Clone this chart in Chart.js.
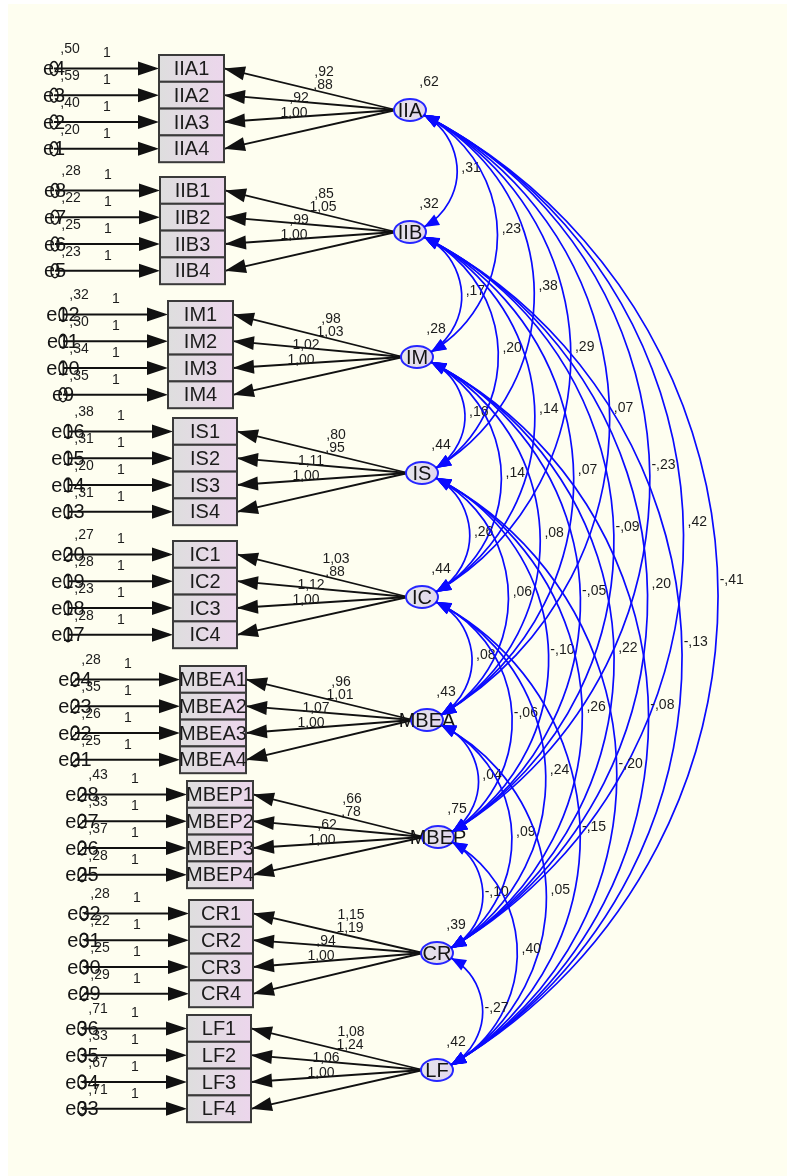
<!DOCTYPE html>
<html>
<head>
<meta charset="utf-8">
<script src="https://cdn.jsdelivr.net/npm/chart.js@4.4.1/dist/chart.umd.min.js"></script>
<style>
  html, body { margin: 0; padding: 0; background: #ffffff; }
  #wrap { width: 787px; height: 1176px; }
</style>
</head>
<body>
<div id="wrap"><canvas id="sem" width="787" height="1176"></canvas></div>
<script>
// ---- model values ----
const factors = ['IIA', 'IIB', 'IM', 'IS', 'IC', 'MBEA', 'MBEP', 'CR', 'LF'];
const factorVariance = [0.62, 0.32, 0.28, 0.44, 0.44, 0.43, 0.75, 0.39, 0.42];

// loadings on indicators 1..4 of each factor
const loadings = [
  [0.92, 0.88, 0.92, 1.00],
  [0.85, 1.05, 0.99, 1.00],
  [0.98, 1.03, 1.02, 1.00],
  [0.80, 0.95, 1.11, 1.00],
  [1.03, 0.88, 1.12, 1.00],
  [0.96, 1.01, 1.07, 1.00],
  [0.66, 0.78, 0.62, 1.00],
  [1.15, 1.19, 0.94, 1.00],
  [1.08, 1.24, 1.06, 1.00]
];

// error variances of indicators 1..4 of each factor
const errorVariance = [
  [0.50, 0.59, 0.40, 0.20],
  [0.28, 0.22, 0.25, 0.23],
  [0.32, 0.30, 0.34, 0.35],
  [0.38, 0.31, 0.20, 0.31],
  [0.27, 0.28, 0.23, 0.28],
  [0.28, 0.35, 0.26, 0.25],
  [0.43, 0.33, 0.37, 0.28],
  [0.28, 0.22, 0.25, 0.29],
  [0.71, 0.33, 0.67, 0.71]
];

// covariances of each factor with the factors listed after it
const covIIA  = [0.31, 0.23, 0.38, 0.29, 0.07, -0.23, 0.42, -0.41];
const covIIB  = [0.17, 0.20, 0.14, 0.07, -0.09, 0.20, -0.13];
const covIM   = [0.16, 0.14, 0.08, -0.05, 0.22, -0.08];
const covIS   = [0.26, 0.06, -0.10, 0.26, -0.20];
const covIC   = [0.08, -0.06, 0.24, -0.15];
const covMBEA = [0.04, 0.09, 0.05];
const covMBEP = [-0.10, 0.40];
const covCR   = [-0.27];
const covRows = [covIIA, covIIB, covIM, covIS, covIC, covMBEA, covMBEP, covCR];

// ---- layout (diagram units; the axes run 0..787 and 0..1176) ----
const nodeX = [410, 410, 417, 422, 422, 427, 438, 437, 437];
const nodeY = [110, 232, 357, 473, 597, 720, 837, 953, 1070];
const blockLeft = [159, 160, 168, 173, 173, 180, 187, 189, 187];
const blockTop = [55, 177, 301, 418, 541, 666, 781, 900, 1015];
const blockWidth = [65, 65, 65, 64, 64, 66, 66, 64, 64];
const ROW_H = 26.8;
const loadLabelDX = [-86, -87, -111, -116];
const loadLabelDY = [-38, -25, -12, 3];

const FONT = '"Liberation Sans", Arial, sans-serif';
const BLUE = '#0a0aff';

function fmt(v) {
  let s = Math.abs(v).toFixed(2).replace('.', ',');
  if (s.startsWith('0')) s = s.slice(1);
  return (v < 0 ? '-' : '') + s;
}

function head(ctx, tx, ty, dx, dy, len, half, color) {
  const m = Math.hypot(dx, dy); dx /= m; dy /= m;
  const bx = tx - dx * len, by = ty - dy * len;
  ctx.beginPath();
  ctx.moveTo(tx, ty);
  ctx.lineTo(bx - dy * half, by + dx * half);
  ctx.lineTo(bx + dy * half, by - dx * half);
  ctx.closePath();
  ctx.fillStyle = color;
  ctx.fill();
}

function label(ctx, text, x, y, size, color) {
  ctx.font = size + 'px ' + FONT;
  ctx.fillStyle = color;
  ctx.textAlign = 'center';
  ctx.textBaseline = 'middle';
  ctx.fillText(text, x, y);
}

const diagram = {
  id: 'diagram',
  beforeDraw(chart) {
    const ctx = chart.ctx;
    ctx.save();
    ctx.fillStyle = '#ffffff';
    ctx.fillRect(0, 0, chart.width, chart.height);
    ctx.fillStyle = '#fefef0';
    ctx.fillRect(8, 4, chart.width - 8, chart.height - 4);
    ctx.restore();
  },
  afterDatasetsDraw(chart) {
    const ctx = chart.ctx;
    const X = v => chart.scales.x.getPixelForValue(v);
    const Y = v => chart.scales.y.getPixelForValue(v);
    const nodes = chart.getDatasetMeta(0).data.map(p => ({ x: p.x, y: p.y }));
    const RX = 16, RY = 11;
    ctx.save();
    ctx.lineCap = 'butt';

    // indicator blocks, error terms and loading paths
    factors.forEach((f, fi) => {
      const left = X(blockLeft[fi]);
      const right = X(blockLeft[fi] + blockWidth[fi]);
      const errX = X(blockLeft[fi] - 105);
      for (let k = 0; k < 4; k++) {
        const top = Y(blockTop[fi] + k * ROW_H);
        const bot = Y(blockTop[fi] + (k + 1) * ROW_H);
        const cy = (top + bot) / 2;

        // error -> indicator
        ctx.strokeStyle = '#111111';
        ctx.lineWidth = 2;
        ctx.beginPath();
        ctx.moveTo(errX, cy);
        ctx.lineTo(left - 4, cy);
        ctx.stroke();
        head(ctx, left, cy, 1, 0, 21, 7, '#111111');

        // factor -> indicator
        const sx = nodes[fi].x - RX + 2, sy = nodes[fi].y;
        ctx.beginPath();
        ctx.moveTo(sx, sy);
        ctx.lineTo(right, cy);
        ctx.lineWidth = 1.8;
        ctx.stroke();
        head(ctx, right, cy, right - sx, cy - sy, 21, 7, '#111111');

        // box
        const g = ctx.createLinearGradient(left, 0, right, 0);
        g.addColorStop(0, '#dedede');
        g.addColorStop(1, '#ecd6ec');
        ctx.fillStyle = g;
        ctx.fillRect(left, top, right - left, bot - top);
        ctx.strokeStyle = '#3a3a3a';
        ctx.lineWidth = 2;
        ctx.strokeRect(left, top, right - left, bot - top);
        label(ctx, f + (k + 1), (left + right) / 2, cy + 1, 20, '#1c1c1c');

        // error term
        const en = 'e' + (fi * 4 + 4 - k);
        label(ctx, en, errX, cy + 1, 20, '#151515');
        ctx.beginPath();
        ctx.ellipse(errX, cy, 4, 7, 0, 0, Math.PI * 2);
        ctx.strokeStyle = '#151515';
        ctx.lineWidth = 1.5;
        ctx.stroke();
        label(ctx, fmt(errorVariance[fi][k]), errX + 16, cy - 19, 14, '#1c1c1c');
        label(ctx, '1', left - 52, cy - 15, 14, '#1c1c1c');

        // loading value
        label(ctx, fmt(loadings[fi][k]), nodes[fi].x + loadLabelDX[k], nodes[fi].y + loadLabelDY[k], 14, '#1c1c1c');
      }
    });

    // latent factors
    factors.forEach((f, fi) => {
      const n = nodes[fi];
      const g = ctx.createLinearGradient(n.x - RX, 0, n.x + RX, 0);
      g.addColorStop(0, '#e6e6ea');
      g.addColorStop(1, '#e2d6ee');
      ctx.beginPath();
      ctx.ellipse(n.x, n.y, RX, RY, 0, 0, Math.PI * 2);
      ctx.fillStyle = g;
      ctx.fill();
      ctx.strokeStyle = '#2626ff';
      ctx.lineWidth = 2;
      ctx.stroke();
      label(ctx, f, n.x, n.y + 1, 20, '#141414');
      label(ctx, fmt(factorVariance[fi]), n.x + 19, n.y - 28, 14, '#1c1c1c');
    });

    // covariance arcs between factors
    ctx.strokeStyle = BLUE;
    ctx.lineWidth = 1.7;
    covRows.forEach((row, i) => {
      row.forEach((v, m) => {
        const j = i + m + 1, k = m + 1;
        const p1 = { x: nodes[i].x + 14, y: nodes[i].y + 5 };
        const p2 = { x: nodes[j].x + 14, y: nodes[j].y - 5 };
        const dx = p2.x - p1.x, dy = p2.y - p1.y;
        const L = Math.hypot(dx, dy);
        const nx = dy / L, ny = -dx / L;
        const s = 0.295 * L;
        const R = (s * s + L * L / 4) / (2 * s);
        const mx = (p1.x + p2.x) / 2, my = (p1.y + p2.y) / 2;
        const cx = mx + nx * (s - R), cy = my + ny * (s - R);
        const a1 = Math.atan2(p1.y - cy, p1.x - cx);
        const a2 = Math.atan2(p2.y - cy, p2.x - cx);
        ctx.beginPath();
        ctx.arc(cx, cy, R, a1, a2, false);
        ctx.stroke();
        head(ctx, p1.x, p1.y, Math.sin(a1), -Math.cos(a1), 15, 6, BLUE);
        head(ctx, p2.x, p2.y, -Math.sin(a2), Math.cos(a2), 15, 6, BLUE);
        const ax = mx + nx * s;
        label(ctx, fmt(v), ax + 14, my - 2 - k, 14, '#1c1c1c');
      });
    });
    ctx.restore();
  }
};

new Chart(document.getElementById('sem'), {
  type: 'scatter',
  data: {
    datasets: [{
      label: 'factors',
      data: factors.map((f, i) => ({ x: nodeX[i], y: nodeY[i] })),
      pointRadius: 0,
      pointHoverRadius: 0
    }]
  },
  options: {
    responsive: false,
    maintainAspectRatio: false,
    animation: false,
    devicePixelRatio: 1,
    events: [],
    layout: { padding: 0 },
    plugins: { legend: { display: false }, tooltip: { enabled: false } },
    scales: {
      x: { type: 'linear', min: 0, max: 787, display: false },
      y: { type: 'linear', min: 0, max: 1176, reverse: true, display: false }
    }
  },
  plugins: [diagram]
});
</script>
</body>
</html>
